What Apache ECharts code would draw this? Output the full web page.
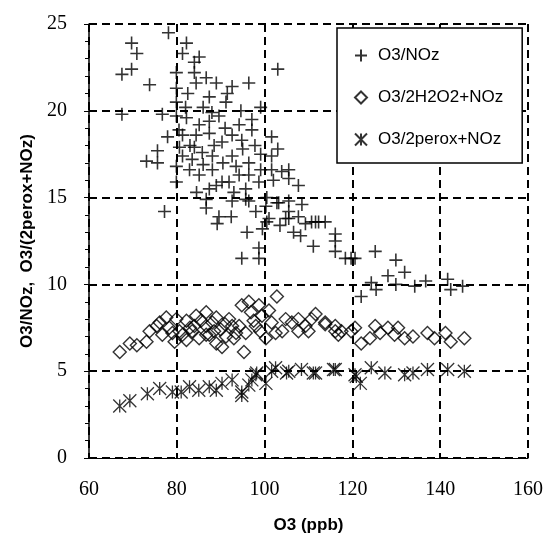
<!DOCTYPE html>
<html>
<head>
<meta charset="utf-8">
<script src="https://cdn.jsdelivr.net/npm/echarts@6/dist/echarts.min.js"></script>
<style>
  html, body { margin: 0; padding: 0; background: #fff; }
  #chart { width: 546px; height: 539px; }
</style>
</head>
<body>
<div id="chart"></div>
<script>
// [O3 ppb, ratio]
const plusPoints = [
  [78.1, 24.5], [69.7, 23.9], [70.9, 23.3], [69.7, 22.4], [67.5, 22.1], [82.2, 23.9], [81.3, 23.3],
  [85.1, 23.1], [84.0, 22.8], [79.9, 22.2], [84.0, 22.2], [86.7, 21.9], [84.4, 21.6], [89.0, 21.6],
  [92.6, 21.4], [96.4, 21.6], [103.0, 22.4], [73.8, 21.5], [79.9, 21.3], [87.4, 20.8], [79.9, 20.5],
  [91.2, 20.5], [99.1, 20.2], [67.5, 19.8], [76.7, 19.8], [79.9, 19.7], [89.6, 19.7], [94.6, 20.0],
  [97.1, 19.5], [87.4, 19.4], [94.2, 19.2], [82.2, 19.6], [85.1, 19.2], [97.1, 18.9], [77.9, 18.5],
  [81.3, 18.6], [84.4, 18.6], [87.4, 18.7], [92.6, 18.6], [101.6, 18.5], [75.6, 17.7], [73.1, 17.1],
  [75.6, 17.0], [80.6, 17.9], [90.3, 18.2], [94.8, 18.3], [85.8, 17.6], [81.3, 17.4], [88.1, 17.4],
  [92.6, 17.4], [99.1, 17.5], [101.6, 17.4], [83.5, 17.2], [79.9, 16.8], [96.4, 17.0], [82.9, 16.6],
  [85.1, 16.3], [88.1, 16.6], [94.2, 16.3], [96.4, 16.3], [99.1, 16.6], [101.6, 16.6], [103.9, 16.5],
  [105.5, 16.6], [79.9, 15.9], [90.3, 15.9], [91.9, 15.9], [98.7, 15.9], [105.5, 16.1], [107.7, 15.7],
  [87.4, 15.5], [89.0, 15.7], [95.7, 15.5], [86.7, 14.9], [92.6, 14.8], [95.7, 14.9], [103.2, 14.7],
  [105.5, 14.8], [77.2, 14.2], [86.7, 14.4], [100.3, 14.5], [105.5, 14.2], [107.7, 13.9], [89.6, 13.9],
  [101.0, 13.8], [104.8, 13.8], [110.7, 13.6], [112.3, 13.6], [113.8, 13.6], [96.4, 14.8], [100.5, 15.0],
  [102.8, 14.7], [105.5, 13.8], [100.5, 13.6], [109.3, 13.5], [111.6, 13.6], [96.0, 13.0], [106.6, 13.0],
  [108.2, 12.8], [116.1, 12.9], [116.1, 12.5], [111.1, 12.2], [98.7, 12.1], [116.1, 11.9], [94.8, 11.5],
  [98.7, 11.5], [119.7, 11.5], [118.4, 11.5], [125.2, 11.9], [120.6, 11.5], [129.9, 11.4], [131.9, 10.7],
  [128.1, 10.5], [124.3, 10.1], [125.4, 9.7], [129.9, 10.0], [134.2, 9.9], [136.7, 10.2], [141.7, 10.3],
  [142.4, 9.7], [145.1, 9.9], [122.0, 9.3], [89.2, 13.5], [92.4, 13.9], [83.0, 18.0], [86.0, 20.2],
  [91.0, 19.0], [93.5, 16.8], [97.8, 18.0], [84.5, 15.3], [88.5, 18.0], [82.5, 21.0], [103.0, 17.8],
  [90.5, 17.0], [84.0, 17.9], [93.0, 15.3], [98.0, 14.2], [102.0, 16.0], [86.0, 16.9], [95.0, 17.8],
  [82.0, 20.2], [88.0, 19.9], [91.5, 21.0], [80.5, 18.9], [99.5, 13.2], [103.5, 13.4], [108.5, 14.6]
];
const diamondPoints = [
  [67.0, 6.1], [69.3, 6.6], [70.9, 6.5], [73.1, 6.7], [73.8, 7.3], [75.4, 7.6], [76.1, 7.8], [77.6, 8.1],
  [79.9, 8.0], [79.5, 6.7], [76.7, 7.1], [78.3, 7.5], [82.2, 7.9], [84.4, 8.2], [86.7, 8.4], [89.0, 8.1],
  [81.3, 7.1], [83.5, 7.3], [85.1, 6.9], [87.4, 7.1], [89.0, 6.6], [90.3, 6.4], [91.2, 7.0], [92.6, 7.6],
  [94.2, 7.6], [94.8, 8.8], [96.4, 9.0], [98.7, 8.8], [96.9, 8.4], [99.4, 8.2], [101.0, 8.5], [102.8, 9.3],
  [95.3, 6.1], [95.7, 7.2], [98.0, 7.6], [100.3, 6.9], [102.5, 7.2], [101.6, 7.8], [104.8, 8.0], [106.2, 7.8],
  [107.7, 8.0], [109.3, 7.6], [110.7, 8.0], [111.6, 8.3], [113.8, 7.8], [116.1, 7.6], [116.8, 7.1],
  [107.7, 7.3], [110.0, 7.3], [86.7, 7.1], [86.7, 7.6], [80.6, 7.3], [82.2, 6.8], [88.1, 7.8], [91.9, 8.0],
  [120.6, 7.5], [113.8, 7.7], [116.1, 7.3], [117.5, 7.3], [119.7, 7.3], [122.0, 6.6], [124.0, 6.9],
  [125.2, 7.6], [126.3, 7.2], [128.1, 7.5], [129.6, 7.1], [130.4, 7.5], [131.9, 6.9], [133.8, 7.0],
  [137.1, 7.2], [138.7, 6.9], [141.2, 7.2], [142.4, 6.7], [145.5, 6.9], [84.0, 7.6], [90.0, 7.4],
  [93.0, 6.9], [97.5, 7.9], [104.0, 7.3], [85.5, 7.9], [88.5, 7.3], [91.0, 7.7], [93.5, 7.2],
  [83.0, 7.5], [79.0, 7.2], [99.0, 7.3]
];
const starPoints = [
  [67.0, 3.0], [69.3, 3.3], [73.3, 3.7], [76.1, 4.0], [79.0, 3.8], [81.0, 3.8], [82.9, 4.1], [87.4, 4.1],
  [90.3, 4.3], [92.6, 4.5], [94.8, 3.8], [97.1, 4.5], [98.2, 4.9], [100.3, 4.3], [101.6, 5.0], [105.5, 5.0],
  [108.4, 5.1], [111.6, 4.9], [116.1, 5.1], [120.6, 4.8], [94.8, 3.6], [96.4, 4.2], [98.0, 4.8],
  [102.5, 5.2], [105.0, 4.9], [111.1, 4.9], [115.7, 5.1], [120.9, 4.7], [121.8, 4.3], [124.3, 5.2],
  [127.4, 4.9], [131.9, 4.8], [133.8, 4.9], [137.1, 5.1], [141.7, 5.1], [145.5, 5.0], [85.0, 3.9],
  [89.0, 3.9]
];
const xTicks = [60, 80, 100, 120, 140, 160];
const yTicks = [0, 5, 10, 15, 20, 25];

const chart = echarts.init(document.getElementById('chart'));
const dash = { color: '#000', width: 2, type: [8, 5] };
const tickFont = { fontFamily: 'Liberation Serif', fontSize: 20, color: '#000' };
const nameFont = { fontFamily: 'Liberation Sans', fontWeight: 'bold', fontSize: 17, color: '#000' };
const hollow = w => ({ color: 'transparent', borderColor: '#000', borderWidth: w });

chart.setOption({
  animation: false,
  backgroundColor: '#fff',
  grid: { left: 89, right: 15, top: 24, bottom: 79 },
  legend: {
    orient: 'vertical',
    left: 337,
    top: 28,
    padding: [18, 19, 14, 17],
    itemGap: 23,
    itemWidth: 12,
    itemHeight: 12,
    backgroundColor: '#fff',
    borderColor: '#000',
    borderWidth: 1.5,
    borderRadius: 0,
    textStyle: { fontFamily: 'Liberation Sans', fontSize: 17, color: '#000', lineHeight: 19, padding: [0, 0, 0, 6] },
    data: ['O3/NOz', 'O3/2H2O2+NOz', 'O3/2perox+NOz']
  },
  xAxis: {
    type: 'value',
    min: xTicks[0],
    max: xTicks[xTicks.length - 1],
    interval: 20,
    name: 'O3 (ppb)',
    nameLocation: 'middle',
    nameGap: 59,
    nameTextStyle: nameFont,
    axisLine: { lineStyle: { color: '#000', width: 1 } },
    axisTick: { inside: true, length: 5, lineStyle: { color: '#000' } },
    axisLabel: { ...tickFont, margin: 22 },
    splitLine: { show: true, lineStyle: dash }
  },
  yAxis: {
    type: 'value',
    min: yTicks[0],
    max: yTicks[yTicks.length - 1],
    interval: 5,
    name: 'O3/NOz,  O3/(2perox+NOz)',
    nameLocation: 'middle',
    nameGap: 52,
    nameTextStyle: nameFont,
    axisLine: { lineStyle: { color: '#000', width: 1.5 } },
    axisTick: { inside: false, length: 5, lineStyle: { color: '#000' } },
    minorTick: { show: true, splitNumber: 5, length: 4, lineStyle: { color: '#000' } },
    axisLabel: { ...tickFont, margin: 22 },
    splitLine: { show: true, lineStyle: dash }
  },
  series: [
    {
      name: 'O3/NOz',
      type: 'scatter',
      data: plusPoints,
      symbol: 'path://M0,5H10M5,0V10',
      symbolSize: 13,
      symbolKeepAspect: true,
      itemStyle: hollow(1.6)
    },
    {
      name: 'O3/2H2O2+NOz',
      type: 'scatter',
      data: diamondPoints,
      symbol: 'diamond',
      symbolSize: 13,
      symbolKeepAspect: true,
      itemStyle: hollow(1.4)
    },
    {
      name: 'O3/2perox+NOz',
      type: 'scatter',
      data: starPoints,
      symbol: 'path://M0,0L10,10M10,0L0,10M5,0V10',
      symbolSize: 13,
      symbolKeepAspect: true,
      itemStyle: hollow(1.3)
    }
  ]
});
</script>
</body>
</html>
